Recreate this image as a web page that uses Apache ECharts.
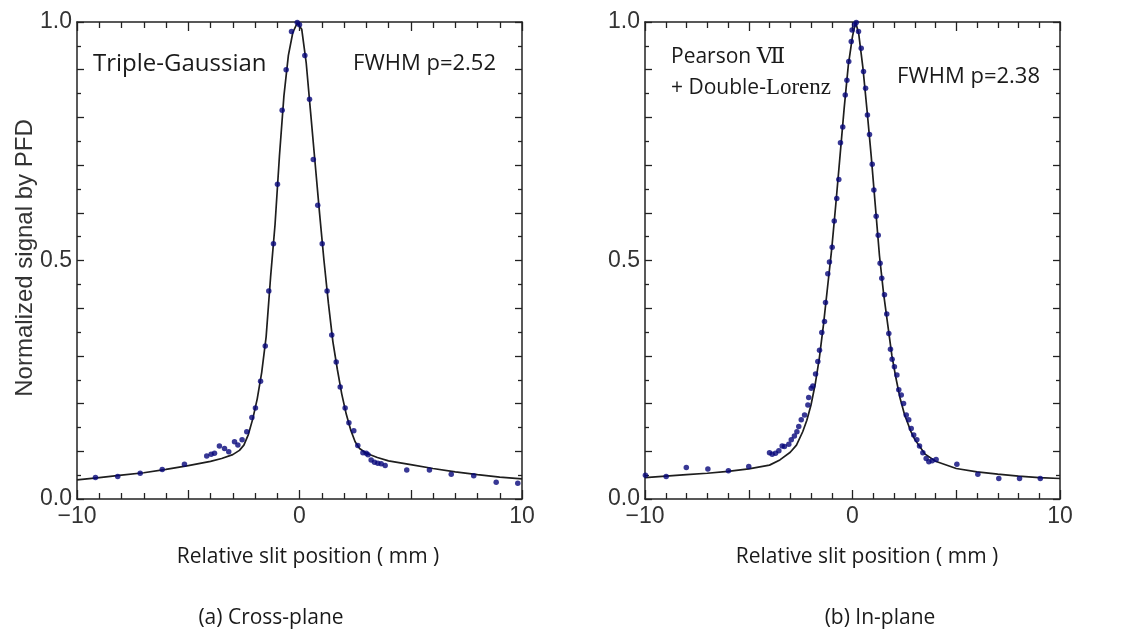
<!DOCTYPE html>
<html>
<head>
<meta charset="utf-8">
<script src="https://cdn.jsdelivr.net/npm/echarts@6/dist/echarts.min.js"></script>
<style>
html,body{margin:0;padding:0;background:#fff;}
#chart{width:1131px;height:631px;}
</style>
</head>
<body>
<div id="chart"></div>
<script>
// ---- Data ----
// (a) Cross-plane, measured points
var crossX = [-9.17,-8.17,-7.16,-6.17,-5.17,-4.17,-3.97,-3.82,-3.60,-3.37,-3.18,-2.92,-2.77,-2.58,-2.37,-2.14,-1.98,-1.75,-1.54,-1.38,-1.17,-0.99,-0.78,-0.60,-0.36,-0.10,0.00,0.24,0.45,0.62,0.82,1.02,1.24,1.45,1.65,1.83,2.05,2.22,2.44,2.62,2.85,3.00,3.08,3.22,3.37,3.52,3.67,3.85,4.82,5.84,6.82,7.83,8.84,9.81];
var crossY = [0.045,0.047,0.054,0.062,0.073,0.090,0.094,0.096,0.111,0.106,0.099,0.120,0.113,0.124,0.141,0.171,0.191,0.247,0.321,0.436,0.535,0.660,0.815,0.900,0.980,0.999,0.994,0.930,0.838,0.712,0.616,0.535,0.436,0.344,0.287,0.235,0.191,0.160,0.143,0.112,0.097,0.096,0.093,0.082,0.077,0.075,0.074,0.070,0.061,0.061,0.052,0.049,0.035,0.033];
// (a) Triple-Gaussian fit curve
var crossFitX = [-10,-9,-8,-7,-6,-5,-4,-3.5,-3,-2.7,-2.5,-2.3,-2.1,-1.9,-1.7,-1.5,-1.3,-1.1,-0.9,-0.7,-0.5,-0.3,-0.1,0.1,0.3,0.5,0.7,0.9,1.1,1.3,1.5,1.7,1.9,2.1,2.3,2.5,2.7,3.0,3.5,4,5,6,7,8,9,10];
var crossFitY = [0.040,0.045,0.050,0.055,0.062,0.070,0.079,0.085,0.093,0.102,0.113,0.135,0.168,0.210,0.265,0.340,0.465,0.575,0.720,0.845,0.930,0.978,0.998,0.985,0.915,0.810,0.705,0.600,0.500,0.410,0.330,0.272,0.220,0.178,0.145,0.120,0.106,0.096,0.087,0.080,0.072,0.064,0.057,0.051,0.046,0.042];
// (b) In-plane, measured points
var inX = [-9.98,-8.98,-8.01,-6.97,-5.98,-5.00,-4.00,-3.87,-3.71,-3.55,-3.39,-3.28,-3.07,-2.95,-2.80,-2.68,-2.59,-2.47,-2.31,-2.15,-2.11,-1.99,-1.91,-1.78,-1.67,-1.59,-1.48,-1.35,-1.30,-1.19,-1.11,-0.98,-0.88,-0.76,-0.66,-0.58,-0.47,-0.35,-0.27,-0.18,-0.06,-0.02,0.10,0.18,0.29,0.42,0.53,0.63,0.72,0.82,0.95,1.03,1.14,1.24,1.33,1.41,1.54,1.65,1.75,1.83,1.91,2.02,2.14,2.23,2.35,2.46,2.59,2.71,2.83,2.95,3.10,3.23,3.39,3.55,3.68,3.84,4.03,5.03,6.04,7.05,8.05,9.05];
var inY = [0.050,0.047,0.066,0.063,0.059,0.068,0.097,0.094,0.096,0.101,0.111,0.110,0.115,0.124,0.132,0.141,0.152,0.166,0.176,0.197,0.213,0.232,0.237,0.262,0.288,0.312,0.349,0.372,0.412,0.472,0.497,0.528,0.583,0.630,0.670,0.747,0.780,0.847,0.878,0.917,0.959,0.983,0.994,0.999,0.980,0.945,0.896,0.861,0.805,0.764,0.702,0.648,0.593,0.553,0.494,0.463,0.428,0.388,0.347,0.314,0.293,0.277,0.260,0.229,0.218,0.200,0.176,0.166,0.148,0.134,0.124,0.111,0.097,0.085,0.078,0.080,0.083,0.073,0.052,0.043,0.043,0.043];
// (b) Pearson VII + Double-Lorenz fit curve
var inFitX = [-10,-9,-8,-7,-6,-5,-4,-3.5,-3,-2.7,-2.4,-2.2,-2.0,-1.8,-1.6,-1.4,-1.2,-1.0,-0.8,-0.6,-0.4,-0.2,0,0.15,0.3,0.5,0.7,0.9,1.1,1.3,1.5,1.7,1.9,2.1,2.3,2.5,2.8,3.0,3.5,4.0,5.0,6,7,8,9,10];
var inFitY = [0.045,0.048,0.051,0.054,0.058,0.063,0.071,0.082,0.098,0.113,0.141,0.165,0.197,0.240,0.295,0.365,0.445,0.525,0.620,0.720,0.820,0.910,0.970,1.000,0.975,0.905,0.815,0.720,0.615,0.510,0.430,0.365,0.300,0.252,0.210,0.178,0.143,0.125,0.094,0.079,0.064,0.057,0.052,0.048,0.045,0.043];
// Tick labels
var xTickLabels = {'-10':'\u221210','0':'0','10':'10'};
var yTickLabels = ['0.0','0.5','1.0'];

function pairs(xs, ys){ return xs.map(function(x,i){return [x, ys[i]];}); }

var frameColor = '#222222';
var labelColor = '#333333';
var dotColor = '#06067a';
var textColor = '#1a1a1a';

function xAxisDef(grid, pos, showLabel){
  return {
    type:'value', gridIndex:grid, position:pos, min:-10, max:10, interval:5,
    axisLine:{show:true, onZero:false, lineStyle:{color:frameColor, width:1.5}},
    axisTick:{show:true, inside:true, length:9, lineStyle:{color:frameColor, width:1.3}},
    minorTick:{show:true, splitNumber:5, length:6, lineStyle:{color:frameColor, width:1.3}},
    splitLine:{show:false},
    axisLabel:{show:showLabel, margin:6, color:labelColor, fontFamily:'Liberation Sans, Arial, sans-serif', fontSize:23,
      formatter:function(v){ var k = String(Math.round(v)); return xTickLabels.hasOwnProperty(k) ? xTickLabels[k] : ''; }}
  };
}
function yAxisDef(grid, pos, showLabel){
  return {
    type:'value', gridIndex:grid, position:pos, min:0, max:1, interval:0.1,
    axisLine:{show:true, onZero:false, lineStyle:{color:frameColor, width:1.5}},
    axisTick:{show:true, inside:true, length:7, lineStyle:{color:frameColor, width:1.3}},
    minorTick:{show:true, splitNumber:2, length:4, lineStyle:{color:frameColor, width:1.3}},
    splitLine:{show:false},
    axisLabel:{show:showLabel, margin:5, color:labelColor, fontFamily:'Liberation Sans, Arial, sans-serif', fontSize:23,
      formatter:function(v){ var k = Math.round(v*10); if (k===0) return yTickLabels[0]; if (k===5) return yTickLabels[1]; if (k===10) return yTickLabels[2]; return ''; }}
  };
}

var chart = echarts.init(document.getElementById('chart'), null, {renderer:'canvas'});
var uiFont = '"Open Sans", "Noto Sans", sans-serif';
var option = {
  backgroundColor:'#ffffff',
  animation:false,
  grid:[
    {left:77, top:22, width:445, height:477},
    {left:645, top:22, width:415, height:477}
  ],
  xAxis:[ xAxisDef(0,'bottom',true), xAxisDef(0,'top',false), xAxisDef(1,'bottom',true), xAxisDef(1,'top',false) ],
  yAxis:[ yAxisDef(0,'left',true), yAxisDef(0,'right',false), yAxisDef(1,'left',true), yAxisDef(1,'right',false) ],
  series:[
    {type:'line', xAxisIndex:0, yAxisIndex:0, data:pairs(crossFitX, crossFitY), showSymbol:false, smooth:false,
      lineStyle:{color:'#1e1e1e', width:1.7}, z:2},
    {type:'scatter', xAxisIndex:0, yAxisIndex:0, data:pairs(crossX, crossY), symbolSize:5.5,
      itemStyle:{color:dotColor}, z:3},
    {type:'line', xAxisIndex:2, yAxisIndex:2, data:pairs(inFitX, inFitY), showSymbol:false, smooth:false,
      lineStyle:{color:'#1e1e1e', width:1.7}, z:2},
    {type:'scatter', xAxisIndex:2, yAxisIndex:2, data:pairs(inX, inY), symbolSize:5.5,
      itemStyle:{color:dotColor}, z:3}
  ],
  graphic:[
    {type:'text', x:25, y:258, rotation:Math.PI/2, style:{text:'Normalized signal by PFD', font:'24px "Liberation Sans", Arial, sans-serif', fill:labelColor, textAlign:'center', textVerticalAlign:'middle'}},
    {type:'text', x:308, y:557, style:{text:'Relative slit position ( mm )', font:'21px ' + uiFont, fill:textColor, textAlign:'center', textVerticalAlign:'middle'}},
    {type:'text', x:867, y:557, style:{text:'Relative slit position ( mm )', font:'21px ' + uiFont, fill:textColor, textAlign:'center', textVerticalAlign:'middle'}},
    {type:'text', x:271, y:618, style:{text:'(a) Cross-plane', font:'21px ' + uiFont, fill:textColor, textAlign:'center', textVerticalAlign:'middle'}},
    {type:'text', x:880, y:618, style:{text:'(b) In-plane', font:'21px ' + uiFont, fill:textColor, textAlign:'center', textVerticalAlign:'middle'}},
    {type:'text', x:93, y:64, style:{text:'Triple-Gaussian', font:'24px ' + uiFont, fill:textColor, textAlign:'left', textVerticalAlign:'middle'}},
    {type:'text', x:496, y:64, style:{text:'FWHM p=2.52', font:'22px ' + uiFont, fill:textColor, textAlign:'right', textVerticalAlign:'middle'}},
    {type:'text', x:671, y:57, style:{
      text:'{a|Pearson }{b|\u2166}',
      rich:{a:{font:'21px ' + uiFont, fill:textColor}, b:{font:'22px "DejaVu Serif", "Liberation Serif", serif', fill:textColor}},
      textAlign:'left', textVerticalAlign:'middle'}},
    {type:'text', x:671, y:88, style:{
      text:'{a|+ Double-}{b|Lorenz}',
      rich:{a:{font:'21px ' + uiFont, fill:textColor}, b:{font:'23px "Liberation Serif", serif', fill:textColor}},
      textAlign:'left', textVerticalAlign:'middle'}},
    {type:'text', x:1040, y:77, style:{text:'FWHM p=2.38', font:'22px ' + uiFont, fill:textColor, textAlign:'right', textVerticalAlign:'middle'}}
  ]
};
chart.setOption(option);
</script>
</body>
</html>
